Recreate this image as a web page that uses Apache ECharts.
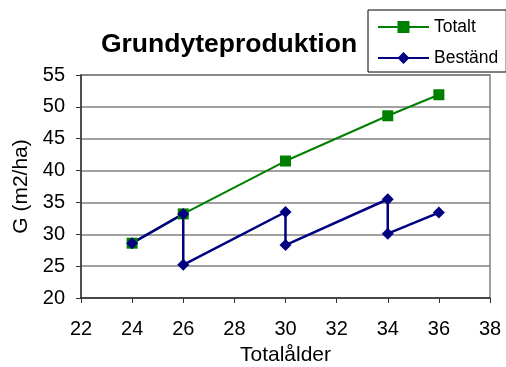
<!DOCTYPE html>
<html><head><meta charset="utf-8">
<script src="https://cdn.jsdelivr.net/npm/echarts@6/dist/echarts.min.js"></script>
<style>html,body{margin:0;padding:0;background:#fff}#c{width:506px;height:367px}</style>
</head><body><div id="c"></div>
<script>
var title = "Grundyteproduktion";
var xName = "Totalålder";
var yName = "G (m2/ha)";
var totaltX = [24, 26, 30, 34, 36];
var totaltY = [28.6, 33.2, 41.5, 48.6, 51.9];
var bestandX = [24, 26, 26, 30, 30, 34, 34, 36];
var bestandY = [28.6, 33.2, 25.2, 33.5, 28.3, 35.5, 30.1, 33.4];

function pairs(xs, ys){ return xs.map(function(x,i){return [x, ys[i]];}); }
var font = "Liberation Sans, Arial, sans-serif";
var chart = echarts.init(document.getElementById('c'));
chart.setOption({
  animation:false,
  backgroundColor:'#fff',
  textStyle:{fontFamily:font},
  title:{text:title, left:224, top:26, textAlign:'center',
    textStyle:{fontFamily:font, fontWeight:'bold', fontSize:26.5, color:'#000'}},
  legend:{orient:'vertical', left:368, top:10, itemGap:13,
    borderColor:'#000', borderWidth:1, padding:[8,8,5,9], itemWidth:51, itemHeight:15,
    textStyle:{fontFamily:font, fontSize:17.5, color:'#000'},
    data:['Totalt','Beständ']},
  grid:{left:81, right:16, top:75, bottom:69, show:true, borderColor:'#808080', borderWidth:1.5,
    containLabel:false, outerBoundsMode:'none'},
  xAxis:{type:'value', min:22, max:38, interval:2, name:xName, nameLocation:'middle', nameGap:47,
    nameTextStyle:{fontFamily:font, fontSize:21, color:'#000'},
    axisLine:{show:true, onZero:false, lineStyle:{color:'#333', width:1.5}},
    axisTick:{show:true, length:5, lineStyle:{color:'#333'}},
    axisLabel:{fontFamily:font, fontSize:20, color:'#000', margin:21},
    splitLine:{show:false}},
  yAxis:{type:'value', min:20, max:55, interval:5, name:yName, nameLocation:'middle', nameGap:49,
    nameTextStyle:{fontFamily:font, fontSize:21, color:'#000'},
    axisLine:{show:true, lineStyle:{color:'#333', width:1.5}},
    axisTick:{show:true, length:5, lineStyle:{color:'#333'}},
    axisLabel:{fontFamily:font, fontSize:20, color:'#000', margin:16},
    splitLine:{show:true, lineStyle:{color:'#808080', width:1.5}}},
  series:[
    {name:'Totalt', type:'line', data:pairs(totaltX, totaltY), symbol:'rect', symbolSize:11,
      lineStyle:{color:'#008000', width:2}, itemStyle:{color:'#008000'}},
    {name:'Beständ', type:'line', data:pairs(bestandX, bestandY), symbol:'diamond', symbolSize:12,
      lineStyle:{color:'#000080', width:2.5}, itemStyle:{color:'#000080'}}
  ]
});
</script></body></html>
